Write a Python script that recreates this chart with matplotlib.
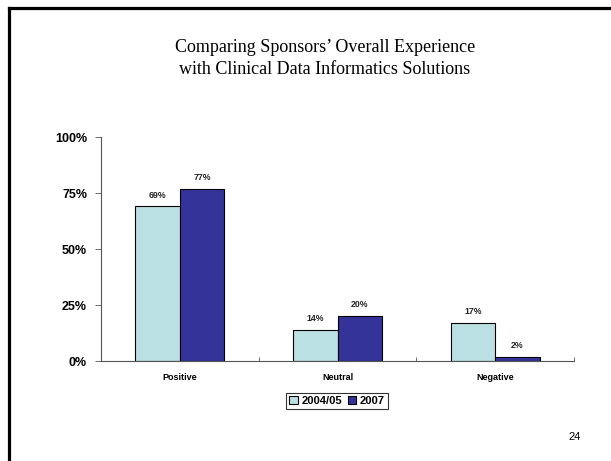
import numpy as np
import matplotlib.pyplot as plt
from matplotlib.lines import Line2D

categorias = ['Positive', 'Neutral', 'Negative']
series = ['2004/05', '2007']
valores_2004 = [69, 14, 17]
valores_2007 = [77, 20, 2]
ticks_y = [0, 25, 50, 75, 100]
colores = ['#BBE0E3', '#333399']


def main():
    fig = plt.figure(figsize=(6.11, 4.61), dpi=100)
    W, H = 611, 461

    # marco de la diapositiva (arriba e izquierda)
    fig.add_artist(Line2D([8.5 / W, 8.5 / W], [0, 1 - 8.5 / H], transform=fig.transFigure,
                          color='black', lw=2.3, solid_capstyle='projecting'))
    fig.add_artist(Line2D([8.5 / W, 1], [1 - 8.5 / H, 1 - 8.5 / H], transform=fig.transFigure,
                          color='black', lw=2.3, solid_capstyle='projecting'))

    fig.text(325 / W, 1 - 47 / H, 'Comparing Sponsors\u2019 Overall Experience',
             ha='center', va='center', family='Liberation Serif', fontsize=13)
    fig.text(325 / W, 1 - 70 / H, 'with Clinical Data Informatics Solutions',
             ha='center', va='center', family='Liberation Serif', fontsize=13)
    fig.text(575 / W, 1 - 437 / H, '24', ha='center', va='center',
             family='Liberation Sans', fontsize=8)

    ax = fig.add_axes([101 / W, 1 - 361 / H, (574 - 101) / W, (361 - 137) / H])
    x = np.arange(len(categorias))
    ancho = 0.283
    b1 = ax.bar(x - ancho / 2, valores_2004, ancho, color=colores[0], edgecolor='black',
                linewidth=0.8, label=series[0])
    b2 = ax.bar(x + ancho / 2, valores_2007, ancho, color=colores[1], edgecolor='black',
                linewidth=0.8, label=series[1])

    for barras in (b1, b2):
        for b in barras:
            ax.text(b.get_x() + b.get_width() / 2, b.get_height() + 3, '%d%%' % b.get_height(),
                    ha='center', va='bottom', fontsize=6.3, fontweight='bold',
                    family='Liberation Sans', color='#222222')

    ax.set_xlim(-0.5, 2.5)
    ax.set_ylim(0, 100)
    ax.set_yticks(ticks_y)
    ax.set_yticklabels(['%d%%' % t for t in ticks_y], fontsize=9, fontweight='bold',
                       family='Liberation Sans')
    ax.set_xticks(x)
    ax.set_xticklabels(categorias, fontsize=6.5, fontweight='bold', family='Liberation Sans')
    ax.tick_params(axis='x', length=0, pad=9)
    ax.set_xticks([-0.5, 0.5, 1.5, 2.5], minor=True)
    ax.tick_params(axis='x', which='minor', length=3, direction='in', width=0.6, color='#555555')
    ax.tick_params(axis='y', length=4, width=0.6, color='#555555', pad=6)
    for lado in ('top', 'right'):
        ax.spines[lado].set_visible(False)
    for lado in ('left', 'bottom'):
        ax.spines[lado].set_color('#555555')
        ax.spines[lado].set_linewidth(0.8)

    leg = ax.legend(loc='center', bbox_to_anchor=(337 / W, 1 - 401 / H),
                    bbox_transform=fig.transFigure, ncol=2, fancybox=False,
                    edgecolor='black', handlelength=0.8, handleheight=0.8,
                    handletextpad=0.3, columnspacing=0.5, borderpad=0.25,
                    prop={'family': 'Liberation Sans', 'weight': 'bold', 'size': 8})
    leg.get_frame().set_linewidth(0.8)

    fig.savefig('out.png', dpi=100)


if __name__ == '__main__':
    main()
